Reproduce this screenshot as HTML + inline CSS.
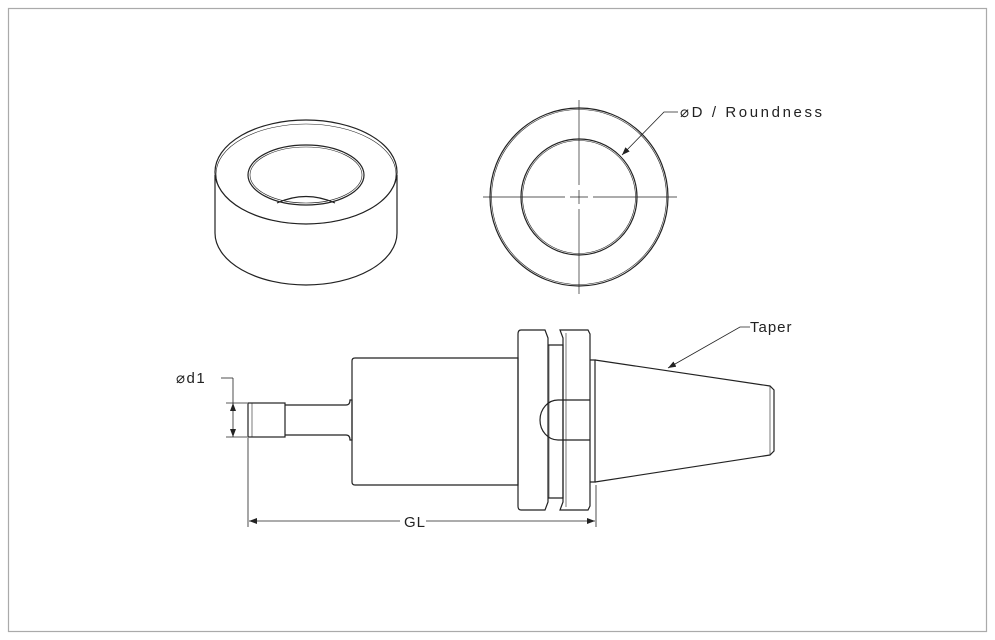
<!DOCTYPE html>
<html><head><style>
html,body{margin:0;padding:0;background:#fff;}
svg{display:block;}
text{font-family:"Liberation Sans",sans-serif;font-size:15px;fill:#222;}
</style></head><body>
<svg width="995" height="640" viewBox="0 0 995 640" xmlns="http://www.w3.org/2000/svg">
<defs>
<marker id="a" markerWidth="8" markerHeight="6" refX="8" refY="3" orient="auto-start-reverse" markerUnits="userSpaceOnUse"><path d="M0,0 L8,3 L0,6z" fill="#222"/></marker>
</defs>
<rect x="8.5" y="8.5" width="978" height="623" fill="#fff" stroke="#aaa" stroke-width="1.2"/>
<g fill="none" stroke="#222" stroke-width="1.2">
<ellipse cx="306" cy="172" rx="91" ry="52"/>
<ellipse cx="306" cy="174" rx="90" ry="50" stroke-width="0.6"/>
<ellipse cx="306" cy="175" rx="58" ry="30"/>
<ellipse cx="306" cy="175" rx="56" ry="28" stroke-width="0.6"/>
<path d="M277,203 Q306,190 335,203"/>
<line x1="215" y1="175" x2="215" y2="233"/>
<line x1="397" y1="175" x2="397" y2="233"/>
<path d="M215,233 A91,52 0 0 0 397,233"/>
<circle cx="579" cy="197" r="89"/>
<circle cx="579" cy="197" r="87.5" stroke-width="0.6"/>
<circle cx="579" cy="197" r="58"/>
<circle cx="579" cy="197" r="56.5" stroke-width="0.6"/>
<g stroke-width="0.7">
<line x1="483" y1="197" x2="565" y2="197"/><line x1="570" y1="197" x2="588" y2="197"/><line x1="593" y1="197" x2="677" y2="197"/>
<line x1="579" y1="100" x2="579" y2="185"/><line x1="579" y1="190" x2="579" y2="204"/><line x1="579" y1="209" x2="579" y2="294"/>
</g>
<polyline points="622,155 664,112 678,112" stroke-width="0.8" marker-start="url(#a)"/>
<rect x="248" y="403" width="37" height="34"/>
<line x1="252" y1="403" x2="252" y2="437" stroke-width="0.6"/>
<path d="M285,405 L346,405 Q350,405 350,400 L352,400 L352,440 L350,440 Q350,435 346,435 L285,435"/>
<path d="M355,358 L518,358 L518,485 L355,485 Q352,485 352,482 L352,361 Q352,358 355,358z"/>
<path d="M521,330 L545,330 L548,338 L548,502 L545,510 L521,510 Q518,510 518,506 L518,334 Q518,330 521,330z"/>
<path d="M548,345 L563,345 L563,498 L548,498"/>
<path d="M560,330 L588,330 L590,334 L590,506 L588,510 L560,510 L563,502 L563,338z"/>
<line x1="549" y1="345" x2="549" y2="498" stroke-width="0.6"/>
<line x1="566" y1="333" x2="566" y2="507" stroke-width="0.6"/>
<path d="M558,400 L590,400 M558,440 L590,440 M558,400 A18,20 0 0 0 558,440"/>
<path d="M590,360 L595,360 L595,482 L590,482"/>
<path d="M595,360 L770,386 L774,390 L774,451 L770,455 L595,482"/>
<line x1="770" y1="386" x2="770" y2="455" stroke-width="0.6"/>
<g stroke-width="0.8">
<line x1="226" y1="403" x2="247" y2="403"/><line x1="226" y1="437" x2="247" y2="437"/>
<line x1="233" y1="378" x2="233" y2="403"/>
<line x1="233" y1="403" x2="233" y2="437" marker-start="url(#a)" marker-end="url(#a)"/>
<line x1="221" y1="378" x2="233" y2="378"/>
<line x1="248" y1="438" x2="248" y2="527"/><line x1="596" y1="485" x2="596" y2="527"/>
<line x1="249" y1="521" x2="400" y2="521" marker-start="url(#a)"/>
<line x1="426" y1="521" x2="595" y2="521" marker-end="url(#a)"/>
<polyline points="668,368 740,327 750,327" marker-start="url(#a)"/>
</g>
</g>
<text x="680" y="117" letter-spacing="2.6">⌀D / Roundness</text>
<text x="176" y="383" letter-spacing="1.5">⌀d1</text>
<text x="404" y="527" letter-spacing="1">GL</text>
<text x="750" y="332" letter-spacing="1">Taper</text>
</svg>
</body></html>
